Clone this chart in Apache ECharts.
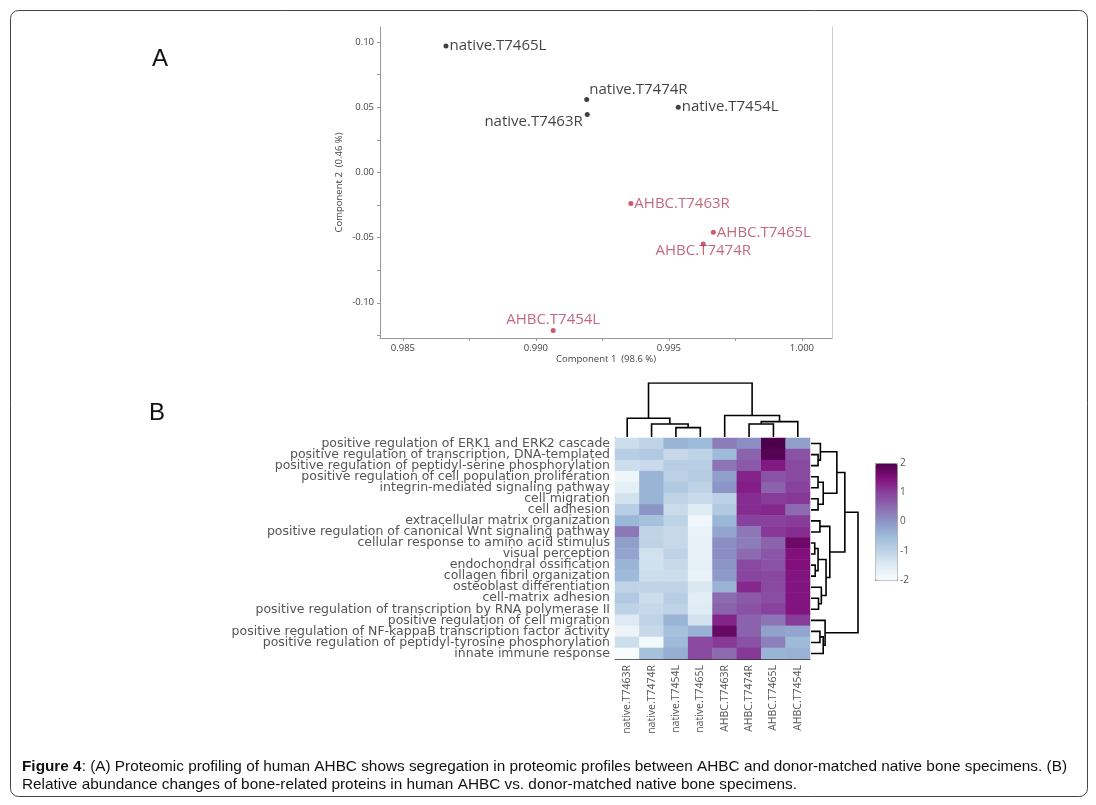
<!DOCTYPE html>
<html><head><meta charset="utf-8">
<script src="https://cdn.jsdelivr.net/npm/echarts@6/dist/echarts.min.js"></script>
<style>html,body{margin:0;padding:0;background:#fff}#c{width:1096px;height:805px}</style>
</head><body><div id="c"></div>
<script>
// ---------- Panel A : PCA scores ----------
const sampleNames = ['native.T7465L','native.T7474R','native.T7463R','native.T7454L','AHBC.T7463R','AHBC.T7465L','AHBC.T7474R','AHBC.T7454L'];
const comp1 = [0.98662, 0.99191, 0.99193, 0.99535, 0.99357, 0.99667, 0.99629, 0.99065];
const comp2 = [0.0969, 0.0559, 0.0444, 0.0500, -0.0238, -0.0459, -0.0549, -0.1213];
const sampleGroup = ['native','native','native','native','AHBC','AHBC','AHBC','AHBC'];
const xTickLabels = [0.985, 0.990, 0.995, 1.000];
const xMinorTicks = [0.985, 0.9875, 0.990, 0.9925, 0.995, 0.9975, 1.000];
const yTickLabels = [-0.10, -0.05, 0.00, 0.05, 0.10];
const yMinorTicks = [-0.125, -0.10, -0.075, -0.05, -0.025, 0.00, 0.025, 0.05, 0.075, 0.10];

// ---------- Panel B : heatmap ----------
const processes = [
  'positive regulation of ERK1 and ERK2 cascade',
  'positive regulation of transcription, DNA-templated',
  'positive regulation of peptidyl-serine phosphorylation',
  'positive regulation of cell population proliferation',
  'integrin-mediated signaling pathway',
  'cell migration',
  'cell adhesion',
  'extracellular matrix organization',
  'positive regulation of canonical Wnt signaling pathway',
  'cellular response to amino acid stimulus',
  'visual perception',
  'endochondral ossification',
  'collagen fibril organization',
  'osteoblast differentiation',
  'cell-matrix adhesion',
  'positive regulation of transcription by RNA polymerase II',
  'positive regulation of cell migration',
  'positive regulation of NF-kappaB transcription factor activity',
  'positive regulation of peptidyl-tyrosine phosphorylation',
  'innate immune response'
];
const heatColumns = ['native.T7463R','native.T7474R','native.T7454L','native.T7465L','AHBC.T7463R','AHBC.T7474R','AHBC.T7465L','AHBC.T7454L'];
const heatValues = [
  [-1.2, -1.0, -0.4, -0.5, 0.3, 0.1, 2.0, -0.1],
  [-0.9, -0.8, -1.1, -1.0, -0.5, 0.6, 1.9, 0.8],
  [-1.2, -1.15, -0.9, -0.9, 0.4, 0.7, 1.4, 0.9],
  [-1.8, -0.4, -0.95, -0.85, -0.1, 1.3, 0.8, 0.9],
  [-1.6, -0.4, -0.8, -1.0, 0.0, 1.35, 0.6, 1.0],
  [-1.3, -0.4, -1.0, -1.15, -0.95, 1.2, 1.05, 1.1],
  [-0.9, 0.0, -1.15, -1.5, -0.8, 1.2, 1.25, 0.5],
  [-0.45, -0.6, -1.0, -1.85, -0.45, 1.0, 1.0, 1.05],
  [0.35, -1.0, -1.1, -1.7, -0.2, 0.35, 1.1, 1.2],
  [-0.1, -1.0, -1.1, -1.65, 0.1, 0.3, 0.6, 1.7],
  [-0.2, -1.25, -1.0, -1.65, 0.1, 0.5, 0.75, 1.5],
  [-0.4, -1.25, -1.1, -1.6, 0.0, 0.9, 0.8, 1.5],
  [-0.5, -1.2, -1.2, -1.7, -0.05, 0.95, 0.9, 1.45],
  [-1.0, -1.0, -1.0, -1.4, -0.4, 1.25, 0.9, 1.45],
  [-0.8, -1.2, -0.9, -1.55, 0.5, 0.7, 0.85, 1.45],
  [-1.0, -1.1, -1.0, -1.5, 0.6, 0.8, 1.0, 1.45],
  [-1.45, -1.0, -0.4, -1.3, 1.3, 0.6, 0.4, 1.05],
  [-1.75, -1.1, -0.6, -0.35, 1.75, 0.6, -0.15, -0.2],
  [-1.2, -1.9, -0.5, 0.9, 1.1, 0.8, 0.25, -0.5],
  [-2.0, -0.6, -0.3, 0.9, 0.5, 1.1, -0.4, -0.35]
];
// linkage: [childA, childB, height]; leaves 0..n-1, clusters n+k
const colMerges = [[2,3,1.73],[1,8,2.42],[0,9,3.48],[5,6,2.42],[11,7,2.85],[4,12,3.97],[10,13,10]];
const rowMerges = [
  [1,2,1.5],[0,20,2.0],[3,4,1.5],[5,6,1.5],[22,23,2.6],[21,24,5.5],
  [7,8,1.9],[9,10,0.8],[11,12,0.9],[27,28,1.5],[14,15,1.6],[13,30,2.2],[29,31,3.2],[26,32,4.0],
  [25,33,7.2],
  [17,18,1.9],[35,19,2.6],[16,36,3.0],
  [34,37,10]
];
const colorbarTicks = [-2, -1, 0, 1, 2];
const buPu = ['#f7fcfd','#e0ecf4','#bfd3e6','#9ebcda','#8c96c6','#8c6bb1','#88419d','#810f7c','#4d004b'];

// ---------- helpers ----------
function dendro(n, merges, horizontal) {
  const pos = [], ht = [];
  for (let i = 0; i < n; i++) { pos[i] = i; ht[i] = 0; }
  const out = [];
  merges.forEach((m, k) => {
    const a = m[0], b = m[1], h = m[2];
    let pts = [[pos[a], ht[a]], [pos[a], h], [pos[b], h], [pos[b], ht[b]]];
    if (horizontal) pts = pts.map(p => [p[1], p[0]]);
    out.push({ coords: pts });
    pos[n + k] = (pos[a] + pos[b]) / 2; ht[n + k] = h;
  });
  return out;
}
const labelPlacement = {
  'native.T7465L': { position: 'right', distance: 1 },
  'native.T7474R': { position: 'right', distance: 0, offset: [0, -10] },
  'native.T7463R': { position: 'left', distance: 2, offset: [0, 7] },
  'native.T7454L': { position: 'right', distance: 1 },
  'AHBC.T7463R': { position: 'right', distance: 1 },
  'AHBC.T7465L': { position: 'right', distance: 1 },
  'AHBC.T7474R': { position: 'bottom', distance: -3 },
  'AHBC.T7454L': { position: 'top', distance: 1 }
};
function groupData(g) {
  const d = [];
  sampleNames.forEach((nm, i) => {
    if (sampleGroup[i] !== g) return;
    d.push({ name: nm, value: [comp1[i], comp2[i]], label: Object.assign({ show: true, formatter: '{b}' }, labelPlacement[nm]) });
  });
  return d;
}
const heatData = [];
heatValues.forEach((row, r) => row.forEach((v, c) => heatData.push([c, r, v])));

// caption width fitting
const cv = document.createElement('canvas').getContext('2d');
const capFont = '"Liberation Sans", Arial, sans-serif';
const cap1b = 'Figure 4';
const cap1 = ': (A) Proteomic profiling of human AHBC shows segregation in proteomic profiles between AHBC and donor-matched native bone specimens. (B)';
const cap2 = 'Relative abundance changes of bone-related proteins in human AHBC vs. donor-matched native bone specimens.';
cv.font = 'bold 15px ' + capFont; let w1 = cv.measureText(cap1b).width;
cv.font = '15px ' + capFont; w1 += cv.measureText(cap1).width;
const capScale = 1045 / w1;

const scatterFont = '"Open Sans", sans-serif';

const chart = echarts.init(document.getElementById('c'), null, { renderer: 'canvas' });
chart.setOption({
  backgroundColor: '#fff',
  animation: false,
  grid: [
    { left: 380, top: 27, width: 452, height: 311 },
    { left: 615, top: 438, width: 195, height: 221 },
    { left: 615, top: 383, width: 195, height: 54 },
    { left: 811, top: 438, width: 47, height: 221 },
    { left: 875, top: 463, width: 22, height: 117 }
  ],
  xAxis: [
    { gridIndex: 0, type: 'value', min: 0.98414, max: 1.00113, splitLine: { show: false },
      name: 'Component 1  (98.6 %)', nameLocation: 'middle', nameGap: 16,
      nameTextStyle: { fontSize: 9.5, color: '#444', fontFamily: scatterFont },
      axisLine: { onZero: false, lineStyle: { color: '#999' } },
      axisTick: { length: 3, customValues: xMinorTicks, lineStyle: { color: '#999' } },
      axisLabel: { customValues: xTickLabels, fontSize: 9.5, color: '#444', margin: 5, fontFamily: scatterFont, formatter: v => v.toFixed(3) } },
    { gridIndex: 1, type: 'category', data: heatColumns, position: 'bottom',
      axisLine: { lineStyle: { color: '#333' } },
      axisTick: { alignWithLabel: true, length: 3, lineStyle: { color: '#333' } },
      axisLabel: { interval: 0, rotate: 90, fontSize: 10.5, color: '#555', margin: 6, fontFamily: scatterFont } },
    { gridIndex: 2, type: 'value', min: -0.5, max: 7.5, show: false },
    { gridIndex: 3, type: 'value', min: 0, max: 10, show: false },
    { gridIndex: 4, type: 'value', min: 0, max: 1, show: false }
  ],
  yAxis: [
    { gridIndex: 0, type: 'value', min: -0.127, max: 0.1115, splitLine: { show: false },
      name: 'Component 2  (0.46 %)', nameLocation: 'middle', nameGap: 36,
      nameTextStyle: { fontSize: 9.5, color: '#444', fontFamily: scatterFont },
      axisLine: { show: true, onZero: false, lineStyle: { color: '#999' } },
      axisTick: { show: true, length: 3, customValues: yMinorTicks, lineStyle: { color: '#999' } },
      axisLabel: { customValues: yTickLabels, fontSize: 9.5, color: '#444', margin: 6, fontFamily: scatterFont, formatter: v => v.toFixed(2) } },
    { gridIndex: 0, type: 'value', position: 'right', min: -0.127, max: 0.1115, splitLine: { show: false },
      axisLine: { show: true, onZero: false, lineStyle: { color: '#ccc' } }, axisTick: { show: false }, axisLabel: { show: false } },
    { gridIndex: 1, type: 'category', data: processes, inverse: true,
      axisLine: { lineStyle: { color: '#333' } },
      axisTick: { alignWithLabel: true, length: 3, lineStyle: { color: '#333' } },
      axisLabel: { interval: 0, fontSize: 12.5, color: '#555', margin: 5, fontFamily: '"DejaVu Sans", Verdana, sans-serif' } },
    { gridIndex: 2, type: 'value', min: 0, max: 10, show: false },
    { gridIndex: 3, type: 'value', min: -0.5, max: 19.5, inverse: true, show: false },
    { gridIndex: 4, type: 'value', min: -2, max: 2, interval: 1, position: 'right', splitLine: { show: false },
      axisLine: { show: false },
      axisTick: { show: true, length: 3, lineStyle: { color: '#666' } },
      axisLabel: { fontSize: 10, color: '#555', margin: 3, fontFamily: scatterFont } }
  ],
  visualMap: {
    type: 'continuous', seriesIndex: 2, min: -2, max: 2, calculable: false,
    left: 875, top: 463, itemWidth: 22, itemHeight: 117, padding: 0,
    borderColor: '#aaa', borderWidth: 1, showLabel: false, text: null,
    inRange: { color: buPu }
  },
  series: [
    { type: 'scatter', xAxisIndex: 0, yAxisIndex: 0, symbolSize: 5,
      itemStyle: { color: '#111' },
      label: { color: '#111', fontSize: 15, fontFamily: scatterFont },
      data: groupData('native') },
    { type: 'scatter', xAxisIndex: 0, yAxisIndex: 0, symbolSize: 5,
      itemStyle: { color: '#c0304a' },
      label: { color: '#b3445e', fontSize: 15, fontFamily: scatterFont },
      data: groupData('AHBC') },
    { type: 'heatmap', xAxisIndex: 1, yAxisIndex: 2, data: heatData, itemStyle: { borderWidth: 0 } },
    { type: 'lines', coordinateSystem: 'cartesian2d', xAxisIndex: 2, yAxisIndex: 3, polyline: true,
      lineStyle: { color: '#000', width: 1.6, opacity: 1 }, data: dendro(heatColumns.length, colMerges, false) },
    { type: 'lines', coordinateSystem: 'cartesian2d', xAxisIndex: 3, yAxisIndex: 4, polyline: true,
      lineStyle: { color: '#000', width: 1.6, opacity: 1 }, data: dendro(processes.length, rowMerges, true) },
    { type: 'scatter', xAxisIndex: 4, yAxisIndex: 5, data: [] }
  ],
  graphic: [
    { type: 'rect', shape: { x: 10.5, y: 10.5, width: 1077, height: 786, r: 8 }, style: { fill: 'none', stroke: '#444', lineWidth: 1 }, silent: true },
    { type: 'text', x: 152, y: 47, style: { text: 'A', font: '24px "Liberation Sans", Arial, sans-serif', fill: '#111', textVerticalAlign: 'alphabetic' } },
    { type: 'text', x: 149, y: 401, style: { text: 'B', font: '24px "Liberation Sans", Arial, sans-serif', fill: '#111', textVerticalAlign: 'alphabetic' } },
    { type: 'text', x: 22, y: 767, scaleX: capScale, style: { text: '{b|' + cap1b + '}' + cap1, font: '15px ' + capFont, fill: '#111', textVerticalAlign: 'middle',
      rich: { b: { fontWeight: 'bold', fontSize: 15, fontFamily: capFont, fill: '#111' } } } },
    { type: 'text', x: 22, y: 785, scaleX: capScale, style: { text: cap2, font: '15px ' + capFont, fill: '#111', textVerticalAlign: 'middle' } }
  ]
});
</script></body></html>
